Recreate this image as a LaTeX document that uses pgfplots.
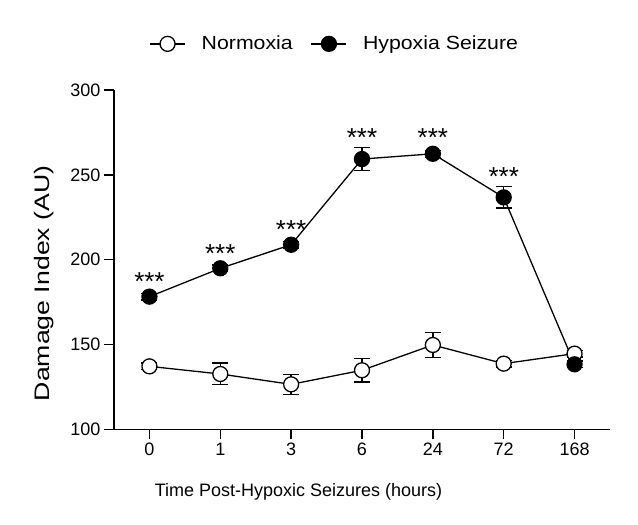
\documentclass[border=0pt]{standalone}
\usepackage{fontspec}
\setmainfont{Liberation Sans}
\newfontfamily\widefont[FakeStretch=1.27]{Liberation Sans}
\newfontfamily\legfont[FakeStretch=1.12]{Liberation Sans}
\usepackage{pgfplots}
\usepackage{pgfplotstable}
\pgfplotsset{compat=1.18}
\pgfplotstableread{
x y e
0 137.1 2.0
1 132.6 6.4
2 126.5 5.9
3 134.8 7.0
4 149.7 7.3
5 138.7 2.0
6 144.6 2.0
}\normoxia
\pgfplotstableread{
x y e
0 178.2 2.0
1 194.9 2.0
2 208.8 2.0
3 259.3 6.6
4 262.4 2.0
5 236.7 6.3
6 138.3 2.0
}\hypoxia
\pgfplotstableread{
x y
0 187.0
1 203.3
2 218.0
3 272.1
4 272.1
5 248.8
}\stars
\begin{document}
\begin{tikzpicture}
\path[use as bounding box] (0pt,0pt) rectangle (638pt,525pt);
\begin{axis}[
  at={(114pt,95.7pt)}, anchor=south west,
  width=496pt, height=339.3pt, scale only axis,
  xmin=-0.5, xmax=6.5, ymin=100, ymax=300,
  axis x line*=bottom, axis y line*=left,
  axis line style={line width=1.4pt},
  tick style={line width=1.4pt, black},
  tick align=outside, major tick length=10pt,
  xtick={0,...,6}, xticklabels={0,1,3,6,24,72,168},
  ytick={100,150,...,300},
  /pgf/number format/assume math mode=true,
  ticklabel style={font=\fontsize{18}{21}\selectfont},
  xlabel={Time Post-Hypoxic Seizures (hours)},
  ylabel={Damage Index (AU)},
  xlabel style={font=\fontsize{18}{21}\selectfont, at={(axis description cs:0.372,-0.185)}, anchor=center},
  ylabel style={font=\widefont\fontsize{21}{24}\selectfont, at={(axis description cs:-0.141,0.43)}, anchor=center},
  legend style={at={(axis description cs:0.445,1.136)}, anchor=center, draw=none, fill=none,
    legend columns=-1, font=\legfont\fontsize{19}{22}\selectfont,
    /tikz/every even column/.append style={column sep=16pt},
    /tikz/every odd column/.append style={column sep=14pt}},
  legend image code/.code={\draw[mark repeat=2,mark phase=2] plot coordinates {(0pt,0pt)(17.5pt,0pt)(35pt,0pt)};},
  clip=false,
]
\addplot[black, line width=1.3pt, mark=*, mark size=7.5pt, mark options={fill=white, line width=1.3pt},
  error bars/.cd, y dir=both, y explicit, error bar style={line width=1.3pt},
  error mark options={rotate=90, mark size=8pt, line width=1.3pt}]
  table[x=x, y=y, y error=e] {\normoxia};
\addlegendentry{Normoxia}
\addplot[black, line width=1.3pt, mark=*, mark size=7.5pt, mark options={fill=black, line width=1.3pt},
  error bars/.cd, y dir=both, y explicit, error bar style={line width=1.3pt},
  error mark options={rotate=90, mark size=8pt, line width=1.3pt}]
  table[x=x, y=y, y error=e] {\hypoxia};
\addlegendentry{Hypoxia Seizure}
\addplot[draw=none, mark=none, nodes near coords={***},
  every node near coord/.style={anchor=center, font=\fontsize{26}{28}\selectfont}]
  table[x=x, y=y] {\stars};
\end{axis}
\end{tikzpicture}
\end{document}
